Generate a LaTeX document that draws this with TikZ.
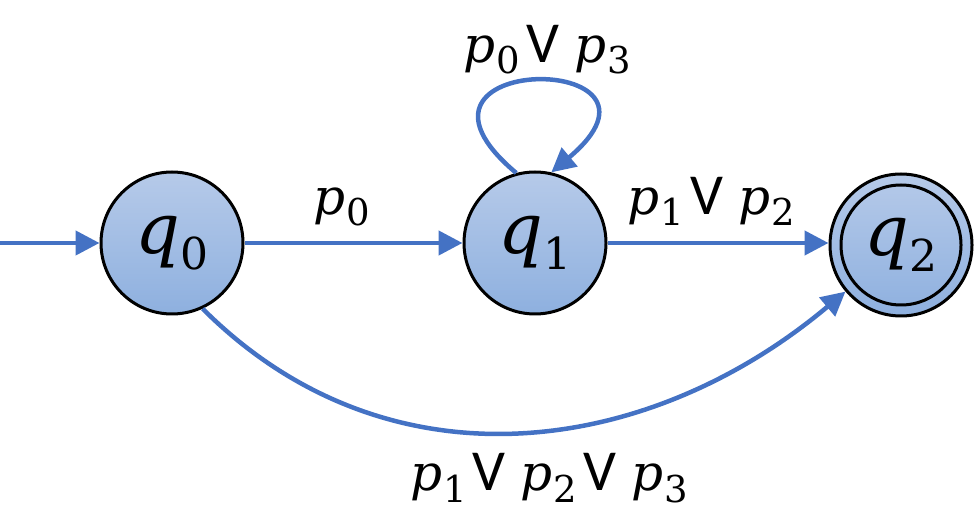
\documentclass[tikz,border=0pt]{standalone}
\usepackage{fontspec}
\newfontfamily\vfont{Carlito}
\newfontfamily\mfont{DejaVu Serif}
\usetikzlibrary{arrows.meta}
\definecolor{edgeblue}{HTML}{4472C4}
\definecolor{filltop}{HTML}{B6CAE9}
\definecolor{fillbot}{HTML}{8EB0DF}
\newcommand\vx[3]{{\mfont\itshape #1}\kern1pt\raisebox{-0.22em}{\mfont\fontsize{#3}{#3}\selectfont #2}}
\newcommand\orv{\hspace{0.12em}{\vfont\fontsize{58}{62}\selectfont V} }
\begin{document}
\begin{tikzpicture}[x=1pt,y=1pt,
  state/.style={circle, draw=black, line width=3pt, top color=filltop, bottom color=fillbot,
    minimum size=142pt, inner sep=0pt, font=\fontsize{70}{74}\selectfont},
  trans/.style={draw=edgeblue, line width=4.5pt, -{Triangle[length=24pt,width=24pt]}},
  lbl/.style={font=\fontsize{50}{56}\selectfont, inner sep=0pt, anchor=base}]
\useasboundingbox (0,0) rectangle (974,522);
\node[state] (q0) at (172,279) {\vx{q}{0}{44}};
\node[state] (q1) at (535,279) {\vx{q}{1}{44}};
\node[state] (q2) at (901,277) {\vx{q}{2}{44}};
\draw[line width=3pt] (q2.center) circle (60);
\coordinate (start) at (0,279);
\draw[trans] (start) -- (q0);
\draw[trans] (q0) -- (q1);
\draw[trans] (q1.east) -- (q1.east -| q2.west);
\draw[trans] (q1.105) .. controls +(140:190) and +(40:190) .. (q1.77);
\draw[trans] (q0.-65) .. controls +(-45:260) and +(-140:260) .. (q2.-140);
\node[lbl] (l01) at (342,307) {\vx{p}{0}{37}};
\node[lbl] (l12) at (711,307) {\vx{p}{1}{37}\orv\vx{p}{2}{37}};
\node[lbl] (l11) at (547,459) {\vx{p}{0}{37}\orv\vx{p}{3}{37}};
\node[lbl] (l02) at (549,31) {\vx{p}{1}{37}\orv\vx{p}{2}{37}\orv\vx{p}{3}{37}};
\end{tikzpicture}
\end{document}
